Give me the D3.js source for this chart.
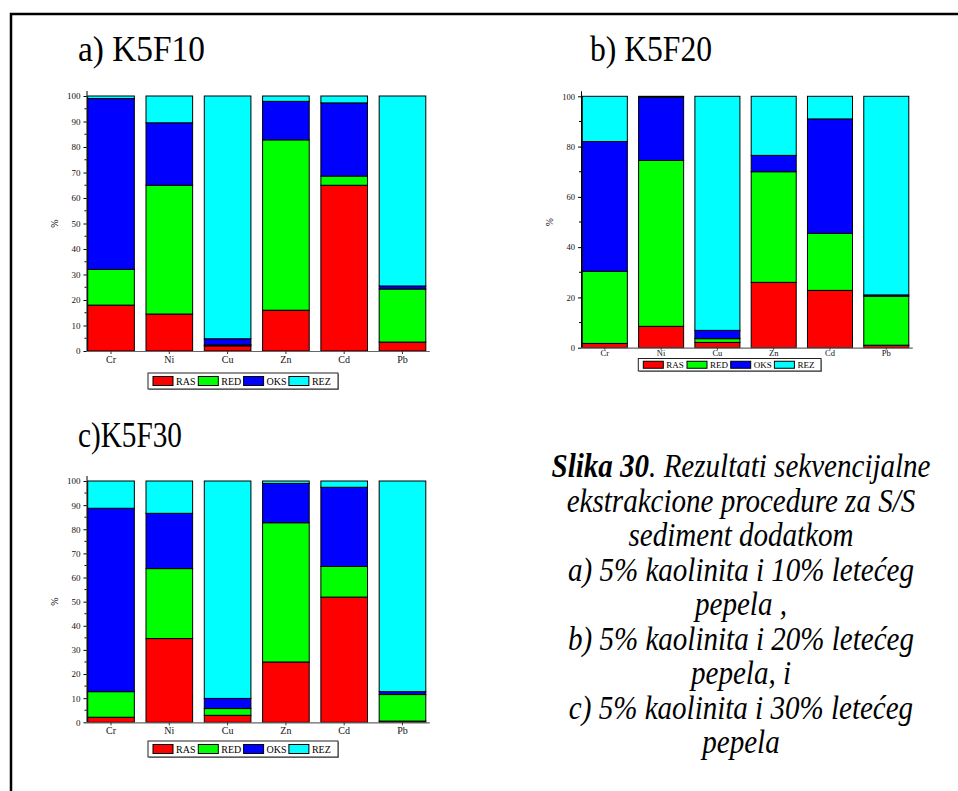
<!DOCTYPE html>
<html>
<head>
<meta charset="utf-8">
<script src="https://cdn.jsdelivr.net/npm/d3@7"></script>
<style>
  html, body { margin: 0; padding: 0; background: #fff; }
  svg { display: block; }
  svg text { font-family: "Liberation Serif", "DejaVu Serif", serif; }
</style>
</head>
<body>
<svg id="fig" width="958" height="791"></svg>
<script>
// Elements and extraction fractions
const categories = ["Cr", "Ni", "Cu", "Zn", "Cd", "Pb"];
const fractions = ["RAS", "RED", "OKS", "REZ"];
const fractionColors = ["#ff0000", "#00ff00", "#0000ff", "#00ffff"];

// K5F10 (%)
const k5f10RAS = [18, 14.5, 2.0, 16, 65, 3.5];
const k5f10RED = [14, 50.5, 0.4, 66.8, 3.6, 20.8];
const k5f10OKS = [67, 24.5, 2.4, 15.1, 28.7, 1.2];
const k5f10REZ = [1, 10.5, 95.2, 2.1, 2.7, 74.5];

// K5F20 (%)
const k5f20RAS = [1.7, 8.5, 2.1, 26, 22.8, 1];
const k5f20RED = [28.7, 66, 1.5, 44, 22.7, 19.5];
const k5f20OKS = [51.6, 25.1, 3.3, 6.5, 45.5, 0.5];
const k5f20REZ = [18, 0.4, 93.1, 23.5, 9, 79];

// K5F30 (%)
const k5f30RAS = [2.1, 34.7, 2.9, 25, 51.9, 0.5];
const k5f30RED = [10.6, 29, 2.8, 57.7, 12.7, 11];
const k5f30OKS = [76, 22.9, 4.2, 16.3, 32.8, 1.2];
const k5f30REZ = [11.3, 13.4, 90.1, 1.0, 2.6, 87.3];

// Axis ticks
const ticksTen = [0, 10, 20, 30, 40, 50, 60, 70, 80, 90, 100];
const ticksTwenty = [0, 20, 40, 60, 80, 100];

const captionLines = [
  "ekstrakcione procedure za S/S",
  "sediment dodatkom",
  "a) 5% kaolinita i 10% letećeg",
  "pepela ,",
  "b) 5% kaolinita i 20% letećeg",
  "pepela, i",
  "c) 5% kaolinita i 30% letećeg",
  "pepela"
];

const SERIF = "Liberation Serif";
const svg = d3.select("#fig");
const root = svg.append("g").attr("font-family", SERIF);

// page frame (left and top rules)
root.append("path")
  .attr("d", "M11,791 L11,14 L958,14")
  .attr("fill", "none").attr("stroke", "#000").attr("stroke-width", 2.5);

function rows(ras, red, oks, rez) {
  return categories.map((c, i) => ({ cat: c, RAS: ras[i], RED: red[i], OKS: oks[i], REZ: rez[i] }));
}

function panel(o) {
  const g = root.append("g");
  const x = d3.scaleBand().domain(categories).range([o.x0, o.x1]).paddingInner(0.2).paddingOuter(0);
  const y = d3.scaleLinear().domain([0, 100]).range([o.yb, o.yt]);
  const series = d3.stack().keys(fractions)(o.data);
  const color = d3.scaleOrdinal().domain(fractions).range(fractionColors);

  series.forEach(s => {
    g.append("g").selectAll("rect").data(s).join("rect")
      .attr("x", d => x(d.data.cat))
      .attr("width", x.bandwidth())
      .attr("y", d => y(d[1]))
      .attr("height", d => y(d[0]) - y(d[1]))
      .attr("fill", color(s.key))
      .attr("stroke", "#000").attr("stroke-width", 1);
  });

  // x axis
  const xa = g.append("g").attr("transform", `translate(0,${o.yb})`)
    .call(d3.axisBottom(x).tickSize(o.xTick).tickSizeOuter(0).tickPadding(o.xPad));
  xa.attr("font-family", SERIF);
  xa.select(".domain").attr("d", `M${o.ax},0.5H${o.x1 + 4}`).attr("stroke", "#666").attr("stroke-width", 1.2);
  xa.selectAll("text").attr("font-size", o.catFont).attr("font-family", SERIF).attr("fill", "#111");
  xa.selectAll(".tick line").attr("stroke", "#333");

  // y axis with minor ticks
  const ya = g.append("g").attr("transform", `translate(${o.ax},0)`)
    .call(d3.axisLeft(y).tickValues(o.ticks).tickSize(3).tickSizeOuter(0).tickPadding(3));
  ya.attr("font-family", SERIF);
  ya.select(".domain").attr("d", `M0.5,${o.yb}V${o.yt - 5}`).attr("stroke", "#000");
  ya.selectAll("text").attr("font-size", o.tickFont).attr("font-family", SERIF).attr("fill", "#111");
  const minor = d3.range(o.minor, 100, o.minor * 2);
  ya.selectAll(".minor").data(minor).join("line").attr("class", "minor")
    .attr("x1", -2).attr("x2", 0).attr("y1", d => y(d)).attr("y2", d => y(d)).attr("stroke", "#000");

  g.append("text")
    .attr("transform", `translate(${o.labelX},${(o.yb + o.yt) / 2}) rotate(-90)`)
    .attr("text-anchor", "middle").attr("font-size", o.tickFont + 1).text("%");

  // legend
  const L = o.legend;
  g.append("rect").attr("x", L.x + 1).attr("y", L.y + 1).attr("width", L.w).attr("height", L.h)
    .attr("fill", "#999");
  g.append("rect").attr("x", L.x).attr("y", L.y).attr("width", L.w).attr("height", L.h)
    .attr("fill", "#fff").attr("stroke", "#222").attr("stroke-width", 1);
  fractions.forEach((f, i) => {
    const lx = L.x + L.pad + i * L.step;
    g.append("rect").attr("x", lx).attr("y", L.y + (L.h - L.sh) / 2).attr("width", L.sw).attr("height", L.sh)
      .attr("fill", color(f)).attr("stroke", "#000");
    g.append("text").attr("x", lx + L.sw + 3).attr("y", L.y + L.h / 2 + L.font * 0.35)
      .attr("font-size", L.font).text(f);
  });

  // panel title
  root.append("text")
    .attr("x", o.title.x).attr("y", o.title.y)
    .attr("font-size", 36)
    .attr("textLength", o.title.w).attr("lengthAdjust", "spacingAndGlyphs")
    .text(o.title.text);
}

panel({
  data: rows(k5f10RAS, k5f10RED, k5f10OKS, k5f10REZ),
  x0: 87.7, x1: 425.8, ax: 86.5, yb: 351, yt: 96,
  ticks: ticksTen, minor: 5, tickFont: 9, catFont: 10, xTick: 3, xPad: 2, labelX: 58,
  legend: { x: 148, y: 373, w: 190, h: 16, pad: 5, step: 45.3, sw: 20, sh: 9, font: 10 },
  title: { x: 78, y: 61, w: 127, text: "a) K5F10" }
});

panel({
  data: rows(k5f20RAS, k5f20RED, k5f20OKS, k5f20REZ),
  x0: 582.3, x1: 908.8, ax: 581, yb: 347.7, yt: 96.3,
  ticks: ticksTwenty, minor: 10, tickFont: 8.5, catFont: 8.5, xTick: 2, xPad: 0, labelX: 553,
  legend: { x: 638.3, y: 358.5, w: 182.7, h: 12.5, pad: 5, step: 43.7, sw: 20, sh: 7, font: 9 },
  title: { x: 590, y: 61, w: 122, text: "b) K5F20" }
});

panel({
  data: rows(k5f30RAS, k5f30RED, k5f30OKS, k5f30REZ),
  x0: 87.7, x1: 425.8, ax: 86.5, yb: 722.3, yt: 481,
  ticks: ticksTen, minor: 5, tickFont: 9, catFont: 10, xTick: 3, xPad: 2, labelX: 58,
  legend: { x: 148, y: 741, w: 190, h: 16, pad: 5, step: 45.3, sw: 20, sh: 9, font: 10 },
  title: { x: 78, y: 447, w: 104, text: "c)K5F30" }
});

// figure caption
const cap = root.append("g").attr("font-style", "italic").attr("font-size", 33);
const cx = 741, base = 477, lh = 34.5;
const first = cap.append("text").attr("transform", `translate(${cx},${base}) scale(0.88,1)`).attr("text-anchor", "middle");
first.append("tspan").attr("font-weight", "bold").text("Slika 30");
first.append("tspan").text(". Rezultati sekvencijalne");
captionLines.forEach((t, i) => {
  cap.append("text").attr("transform", `translate(${cx},${base + (i + 1) * lh}) scale(0.88,1)`)
    .attr("text-anchor", "middle").text(t);
});
</script>
</body>
</html>
